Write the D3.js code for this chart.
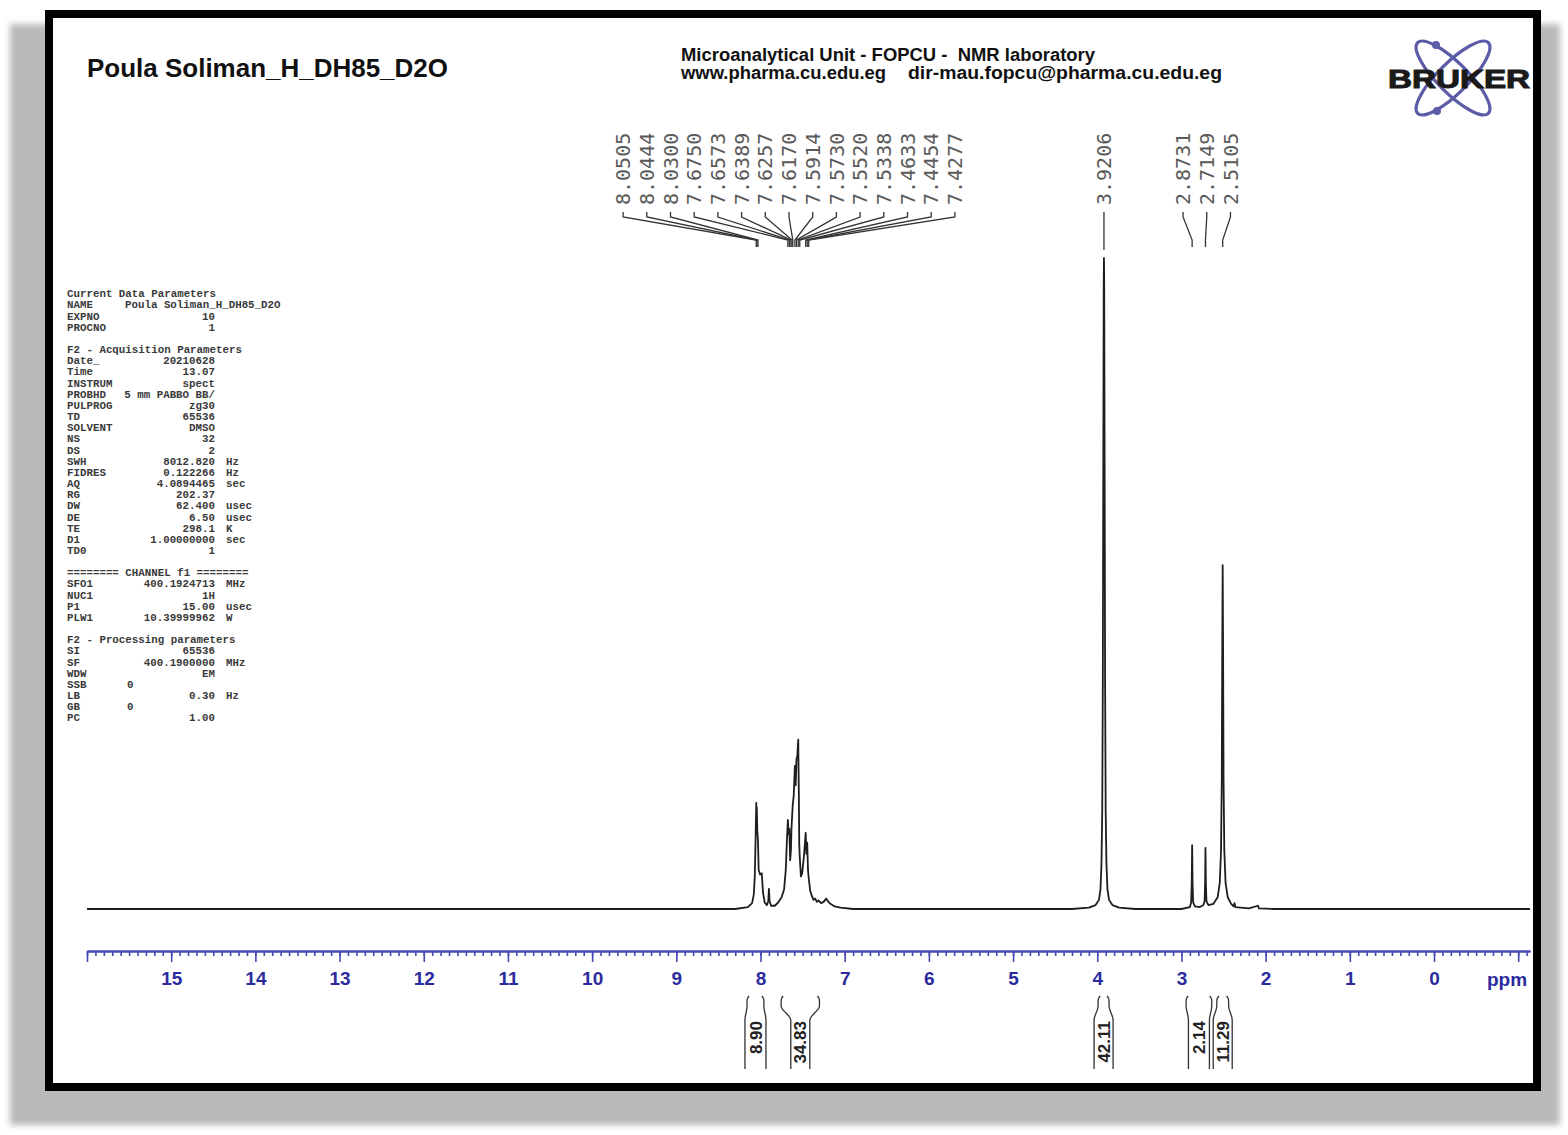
<!DOCTYPE html>
<html><head><meta charset="utf-8">
<script src="https://cdn.jsdelivr.net/npm/d3@7"></script>
<style>body{margin:0;background:#fff}svg{display:block}</style>
</head><body>
<svg id="c" width="1568" height="1135"></svg>
<script>
// ---------- text ----------
const title = "Poula Soliman_H_DH85_D2O";
const headerLine1 = "Microanalytical Unit - FOPCU -  NMR laboratory";
const headerWeb = "www.pharma.cu.edu.eg";
const headerMail = "dir-mau.fopcu@pharma.cu.edu.eg";

// ---------- axis ----------
const majorTicks = [16,15,14,13,12,11,10,9,8,7,6,5,4,3,2,1,0,-1];
const tickLabels = ["","15","14","13","12","11","10","9","8","7","6","5","4","3","2","1","0",""];
const axisUnit = "ppm";

// ---------- peak picking ----------
const aromaticPeaks = [8.0505,8.0444,8.0300,7.6750,7.6573,7.6389,7.6257,7.6170,7.5914,7.5730,7.5520,7.5338,7.4633,7.4454,7.4277];
const singletPeaks = [3.9206];
const aliphaticPeaks = [2.8731,2.7149,2.5105];

// ---------- integrals ----------
const integralValues = ["8.90","34.83","42.11","2.14","11.29"];
const integralFrom = [8.16,7.755,3.99,2.945,2.58];
const integralTo   = [7.96,7.30,3.86,2.64,2.44];

// ---------- spectrum trace [ppm, intensity % of tallest] ----------
const traceAromatic = [
 [16.0,0],[8.30,0],[8.15,0.3],[8.10,0.9],[8.08,2.2],[8.068,5],[8.058,11],[8.0505,16.3],[8.047,14.5],[8.0444,15.6],
 [8.038,12],[8.030,10.5],[8.022,6],[8.005,5.3],[7.985,5.5],[7.97,2.5],[7.95,1],[7.925,0.6],[7.908,1.2],[7.900,3.1],
 [7.892,1.2],[7.875,0.5],[7.83,0.5],[7.79,1],[7.75,1.8],[7.72,3],[7.70,6],[7.688,10],[7.6750,13.7],[7.667,11.5],
 [7.6573,12.3],[7.648,7.5],[7.6389,9],[7.632,12.5],[7.6257,14],[7.6170,16],[7.605,17.5],[7.5914,22],[7.582,19],
 [7.5730,23],[7.563,23.5],[7.5520,26],[7.545,18],[7.540,10],[7.5338,8],[7.52,5],[7.505,5.5],[7.485,8],[7.4633,11.7],
 [7.455,8.5],[7.4454,10.2],[7.436,6],[7.4277,4.8],[7.41,2.8],[7.39,2],[7.37,1.4],[7.35,1.6],[7.33,1.1],[7.31,1.3],
 [7.28,0.9],[7.25,1.1],[7.22,1.6],[7.20,1.2],[7.17,0.8],[7.12,0.4],[7.05,0.2],[6.9,0]
];
const traceSinglet = [
 [4.30,0],[4.10,0.2],[4.02,0.6],[3.98,1.4],[3.962,3],[3.950,7],[3.941,15],[3.934,35],[3.928,70],[3.9235,96],[3.9206,100],
 [3.9175,96],[3.913,70],[3.907,35],[3.900,15],[3.891,7],[3.879,3],[3.86,1.4],[3.82,0.6],[3.74,0.2],[3.55,0]
];
const traceAliphatic = [
 [3.00,0],[2.90,0.3],[2.885,1],[2.878,4],[2.8731,9.8],[2.868,4],[2.861,1],[2.84,0.4],[2.78,0.3],[2.74,0.6],
 [2.725,1.2],[2.719,4],[2.7149,9.4],[2.710,4],[2.703,1.2],[2.68,0.6],[2.62,0.8],[2.57,1.8],[2.545,4],[2.530,9],
 [2.521,20],[2.5155,40],[2.5105,52.8],[2.5055,40],[2.500,20],[2.491,9],[2.476,4],[2.45,1.8],[2.41,0.8],[2.38,0.4],
 [2.37,0.9],[2.36,0.3],[2.2,0.1],[2.09,0.5],[2.08,0.1],[1.9,0],[-1.14,0]
];

// ---------- acquisition parameter listing ----------
const paramRows = [
 ["Current Data Parameters","","",""],
 ["NAME","Poula Soliman_H_DH85_D2O","","L"],
 ["EXPNO","10","",""],
 ["PROCNO","1","",""],
 null,
 ["F2 - Acquisition Parameters","","",""],
 ["Date_","20210628","",""],
 ["Time","13.07","",""],
 ["INSTRUM","spect","",""],
 ["PROBHD","5 mm PABBO BB/","",""],
 ["PULPROG","zg30","",""],
 ["TD","65536","",""],
 ["SOLVENT","DMSO","",""],
 ["NS","32","",""],
 ["DS","2","",""],
 ["SWH","8012.820","Hz",""],
 ["FIDRES","0.122266","Hz",""],
 ["AQ","4.0894465","sec",""],
 ["RG","202.37","",""],
 ["DW","62.400","usec",""],
 ["DE","6.50","usec",""],
 ["TE","298.1","K",""],
 ["D1","1.00000000","sec",""],
 ["TD0","1","",""],
 null,
 ["======== CHANNEL f1 ========","","",""],
 ["SFO1","400.1924713","MHz",""],
 ["NUC1","1H","",""],
 ["P1","15.00","usec",""],
 ["PLW1","10.39999962","W",""],
 null,
 ["F2 - Processing parameters","","",""],
 ["SI","65536","",""],
 ["SF","400.1900000","MHz",""],
 ["WDW","EM","",""],
 ["SSB","0","","L"],
 ["LB","0.30","Hz",""],
 ["GB","0","","L"],
 ["PC","1.00","",""]
];

// ================= drawing =================
const svg = d3.select("#c");
const defs = svg.append("defs");
const blur = defs.append("filter").attr("id","blur").attr("x","-5%").attr("y","-5%").attr("width","110%").attr("height","110%");
blur.append("feGaussianBlur").attr("stdDeviation",3);

// shadow + frame
svg.append("rect").attr("x",10).attr("y",24).attr("width",1550).attr("height",1101).attr("fill","#b9b9b9").attr("filter","url(#blur)");
svg.append("rect").attr("x",49).attr("y",14).attr("width",1488).attr("height",1073).attr("fill","#fff").attr("stroke","#000").attr("stroke-width",8);

const x = d3.scaleLinear().domain([16.0,-1.14]).range([87,1530]);
const y = d3.scaleLinear().domain([0,100]).range([909,258]);

// header
const sans = "Liberation Sans, Arial, sans-serif";
svg.append("text").attr("x",87).attr("y",77).attr("font-family",sans)
  .attr("font-weight","bold").attr("font-size",26).attr("textLength",361).attr("lengthAdjust","spacingAndGlyphs")
  .attr("fill","#111").text(title);
svg.append("text").attr("x",681).attr("y",61).attr("font-family",sans).attr("xml:space","preserve")
  .attr("font-weight","bold").attr("font-size",18).attr("textLength",414).attr("lengthAdjust","spacingAndGlyphs")
  .attr("fill","#111").text(headerLine1);
svg.append("text").attr("x",681).attr("y",79).attr("font-family",sans)
  .attr("font-weight","bold").attr("font-size",18).attr("textLength",205).attr("lengthAdjust","spacingAndGlyphs")
  .attr("fill","#111").text(headerWeb);
svg.append("text").attr("x",908).attr("y",79).attr("font-family",sans)
  .attr("font-weight","bold").attr("font-size",18).attr("textLength",314).attr("lengthAdjust","spacingAndGlyphs")
  .attr("fill","#111").text(headerMail);

// Bruker logo
const logo = svg.append("g");
logo.append("ellipse").attr("cx",1453).attr("cy",78).attr("rx",50).attr("ry",15).attr("transform","rotate(-45 1453 78)")
  .attr("fill","none").attr("stroke","#5b5ba8").attr("stroke-width",3.2);
logo.append("ellipse").attr("cx",1453).attr("cy",78).attr("rx",50).attr("ry",15).attr("transform","rotate(45 1453 78)")
  .attr("fill","none").attr("stroke","#5b5ba8").attr("stroke-width",3.2);
logo.append("circle").attr("cx",1436).attr("cy",45).attr("r",4).attr("fill","#5b5ba8");
logo.append("circle").attr("cx",1437).attr("cy",111).attr("r",4).attr("fill","#5b5ba8");
logo.append("text").attr("x",1388).attr("y",88).attr("font-family",sans)
  .attr("font-weight","900").attr("font-size",25).attr("textLength",142).attr("lengthAdjust","spacingAndGlyphs")
  .attr("fill","#1a1a1a").attr("stroke","#1a1a1a").attr("stroke-width",1).text("BRUKER");

// parameter listing
const pg = svg.append("g").attr("font-family","Liberation Mono, Courier New, monospace").attr("font-size",10.8)
  .attr("fill","#3a3a3a").attr("font-weight","bold");
paramRows.forEach((r,i)=>{
  if(!r) return;
  const yy = 297.3 + i*11.16;
  pg.append("text").attr("x",67).attr("y",yy).attr("xml:space","preserve").text(r[0]);
  if(r[1]){
    if(r[3]==="L") pg.append("text").attr("x",r[0]==="NAME"?125:127).attr("y",yy).text(r[1]);
    else pg.append("text").attr("x",215).attr("y",yy).attr("text-anchor","end").text(r[1]);
  }
  if(r[2]) pg.append("text").attr("x",226).attr("y",yy).text(r[2]);
});

// spectrum
const trace = [...traceAromatic, ...traceSinglet, ...traceAliphatic];
svg.append("path").datum(trace)
  .attr("d", d3.line().x(d=>x(d[0])).y(d=>y(d[1])))
  .attr("fill","none").attr("stroke","#1e1e1e").attr("stroke-width",1.8).attr("stroke-linejoin","round");

// axis
const axisY = 951;
const gMinor = svg.append("g").attr("transform",`translate(0,${axisY})`)
  .call(d3.axisBottom(x).tickValues(d3.range(160,-12,-1).map(v=>v/10)).tickSize(5).tickSizeOuter(0).tickFormat(""));
const gMajor = svg.append("g").attr("transform",`translate(0,${axisY})`)
  .call(d3.axisBottom(x).tickValues(majorTicks).tickSize(11).tickSizeOuter(0).tickPadding(10)
    .tickFormat((d,i)=>tickLabels[i]));
[gMinor,gMajor].forEach(g=>{
  g.selectAll("path.domain").attr("stroke","#4848b4").attr("stroke-width",2);
  g.selectAll(".tick line").attr("stroke","#4848b4").attr("stroke-width",1.6);
});
gMajor.selectAll(".tick text").attr("fill","#2b2b9e").attr("font-family",sans)
  .attr("font-weight","bold").attr("font-size",19);
svg.append("text").attr("x",1507).attr("y",axisY+35).attr("text-anchor","middle").attr("fill","#2b2b9e")
  .attr("font-family",sans).attr("font-weight","bold").attr("font-size",19).text(axisUnit);

// peak labels
const labelFont = "DejaVu Sans Mono, monospace";
function drawPeakGroup(peaks, spacing){
  const px = peaks.map(p=>x(p));
  const c = d3.mean(px);
  const n = peaks.length;
  const g = svg.append("g");
  peaks.forEach((p,i)=>{
    const lx = n===1 ? px[i] : c + (i-(n-1)/2)*spacing;
    g.append("text").attr("transform",`translate(${lx},205) rotate(-90)`).attr("dy","0.36em")
      .attr("font-family",labelFont).attr("font-size",20).attr("fill","#5a5a5a").text(p.toFixed(4));
    const pts = n===1 ? [[lx,212],[lx,250]] : [[lx,212],[lx,217],[px[i],240],[px[i],247]];
    g.append("path").attr("d",d3.line()(pts)).attr("fill","none").attr("stroke","#333").attr("stroke-width",1.3);
  });
}
drawPeakGroup(aromaticPeaks,23.7);
drawPeakGroup(singletPeaks,0);
drawPeakGroup(aliphaticPeaks,23.7);

// integrals
const ig = svg.append("g");
integralValues.forEach((v,i)=>{
  const x1 = x(integralFrom[i]), x2 = x(integralTo[i]);
  const cx = (x1+x2)/2;
  const hw = v.length>4 ? 9.5 : 10.5;
  const b1 = cx-hw, b2 = cx+hw;
  const lineGen = d3.line().curve(d3.curveMonotoneY);
  ig.append("path").attr("d",lineGen([[x1+2,996],[x1,1000],[x1,1006],[b1,1020],[b1,1069]])).attr("fill","none").attr("stroke","#333").attr("stroke-width",1.3);
  ig.append("path").attr("d",lineGen([[x2-2,996],[x2,1000],[x2,1006],[b2,1020],[b2,1069]])).attr("fill","none").attr("stroke","#333").attr("stroke-width",1.3);
  ig.append("text").attr("transform",`translate(${cx},1021) rotate(-90)`).attr("text-anchor","end").attr("dy","0.36em")
    .attr("font-family",sans).attr("font-weight","bold").attr("font-size",17).attr("fill","#222").text(v);
});
</script>
</body></html>
